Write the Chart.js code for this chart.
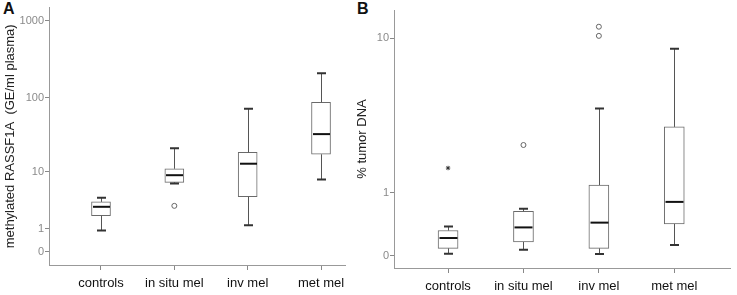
<!DOCTYPE html>
<html>
<head>
<meta charset="utf-8">
<script src="https://cdn.jsdelivr.net/npm/chart.js@4.4.1/dist/chart.umd.min.js"></script>
<style>
  body { margin: 0; background: #fff; width: 737px; height: 295px; overflow: hidden; position: relative; }
  canvas { position: absolute; top: 0; }
  .panel { position: absolute; top: 0; font: bold 16px "Liberation Sans", Arial, sans-serif; color: #111; }
</style>
</head>
<body>
<div class="panel" style="left:3px">A</div>
<div class="panel" style="left:357px">B</div>
<canvas id="chartA" width="355" height="295" style="left:0"></canvas>
<canvas id="chartB" width="382" height="295" style="left:355px"></canvas>
<script>
const categories = ["controls", "in situ mel", "inv mel", "met mel"];

// panel A: methylated RASSF1A (GE/ml plasma)
const aLow    = [0.90, 6.7, 1.22, 7.7];
const aQ1     = [1.95, 7.0, 4.2, 17.5];
const aMedian = [2.85, 8.9, 12.95, 32.8];
const aQ3     = [3.46, 11.0, 18.6, 86.5];
const aHigh   = [4.06, 21.1, 70.9, 207];
const aOutliers = [{ cat: 2, value: 2.96 }];
const aExtremes = [];
const aTicks = [0, 1, 10, 100, 1000];

// panel B: % tumor DNA
const bLow    = [0.022, 0.068, 0.019, 0.125];
const bQ1     = [0.084, 0.163, 0.084, 0.42];
const bMedian = [0.215, 0.366, 0.44, 0.81];
const bQ3     = [0.32, 0.63, 1.18, 3.14];
const bHigh   = [0.38, 0.68, 4.07, 8.8];
const bOutliers = [{ cat: 2, value: 2.39 }, { cat: 3, value: 10.3 }, { cat: 3, value: 11.5 }];
const bExtremes = [{ cat: 1, value: 1.63 }];
const bTicks = [0, 1, 10];

// axis is log10(x + 1), so 0 can be shown
const t = v => Math.log10(v + 1);
const FONT = "'Liberation Sans', Arial, sans-serif";

const whiskerPlugin = {
  id: "whiskers",
  afterDatasetsDraw(chart) {
    const ds = chart.data.datasets[0];
    const x = chart.scales.x, y = chart.scales.y;
    const ctx = chart.ctx;
    const half = ds.barThickness / 2;
    ctx.save();
    ds.data.forEach((d, i) => {
      const px = Math.round(x.getPixelForValue(d.x)) + 0.5;
      const low = y.getPixelForValue(t(ds.low[i]));
      const high = y.getPixelForValue(t(ds.high[i]));
      const q1 = y.getPixelForValue(d.y[0]);
      const q3 = y.getPixelForValue(d.y[1]);
      const med = y.getPixelForValue(t(ds.median[i]));
      ctx.strokeStyle = "#555";
      ctx.lineWidth = 1;
      ctx.beginPath();
      ctx.moveTo(px, q3); ctx.lineTo(px, high);
      ctx.moveTo(px, q1); ctx.lineTo(px, low);
      ctx.stroke();
      ctx.strokeStyle = "#333";
      ctx.lineWidth = 2;
      ctx.beginPath();
      ctx.moveTo(px - 4.5, high); ctx.lineTo(px + 4.5, high);
      ctx.moveTo(px - 4.5, low); ctx.lineTo(px + 4.5, low);
      ctx.stroke();
      ctx.strokeStyle = "#111";
      ctx.beginPath();
      ctx.moveTo(px - half + 1, med); ctx.lineTo(px + half - 1, med);
      ctx.stroke();
    });
    ctx.restore();
  }
};

function makeChart(id, cfg) {
  const boxes = categories.map((c, i) => ({ x: i + 1, y: [t(cfg.q1[i]), t(cfg.q3[i])] }));
  new Chart(document.getElementById(id), {
    type: "bar",
    data: {
      datasets: [
        {
          type: "bar",
          data: boxes,
          low: cfg.low, high: cfg.high, median: cfg.median,
          backgroundColor: "#fff",
          borderColor: "#6a6a6a",
          borderWidth: 1,
          borderSkipped: false,
          barThickness: cfg.boxWidth,
          order: 2
        },
        {
          type: "scatter",
          data: cfg.outliers.map(o => ({ x: o.cat, y: t(o.value) })),
          pointStyle: "circle",
          radius: 2.5,
          backgroundColor: "#fff",
          borderColor: "#666",
          borderWidth: 1,
          order: 1
        },
        {
          type: "scatter",
          data: cfg.extremes.map(o => ({ x: o.cat, y: t(o.value) })),
          pointStyle: "star",
          radius: 2.2,
          borderColor: "#333",
          borderWidth: 1,
          order: 1
        }
      ]
    },
    options: {
      responsive: false,
      animation: false,
      layout: { padding: { left: 0, top: cfg.top, right: cfg.right, bottom: 0 } },
      plugins: { legend: { display: false }, tooltip: { enabled: false } },
      scales: {
        x: {
          type: "linear",
          offset: false,
          min: cfg.xMin,
          max: cfg.xMax,
          afterBuildTicks: s => { s.ticks = categories.map((c, i) => ({ value: i + 1 })); },
          afterFit: s => { s.height = cfg.xHeight; },
          ticks: {
            callback: (v, i) => categories[i],
            color: "#111",
            font: { family: FONT, size: 13 },
            padding: cfg.labelPad,
            maxRotation: 0,
            autoSkip: false
          },
          grid: { offset: false, drawOnChartArea: false, tickLength: 5, color: "#888" },
          border: { color: "#999" }
        },
        y: {
          type: "linear",
          min: cfg.yMin,
          max: cfg.yMax,
          afterBuildTicks: s => { s.ticks = cfg.ticks.map(v => ({ value: t(v) })); },
          afterFit: s => { s.width = cfg.yWidth; },
          ticks: {
            callback: (v, i) => String(cfg.ticks[i]),
            color: "#8a8a8a",
            font: { family: FONT, size: 11 },
            padding: 1
          },
          grid: { drawOnChartArea: false, tickLength: 4, color: "#888" },
          border: { color: "#999" },
          title: {
            display: true,
            text: cfg.title,
            color: "#222",
            font: { family: FONT, size: 13 },
            padding: { top: cfg.titlePad, bottom: 0 }
          }
        }
      }
    },
    plugins: [whiskerPlugin]
  });
}

makeChart("chartA", {
  low: aLow, q1: aQ1, median: aMedian, q3: aQ3, high: aHigh,
  outliers: aOutliers, extremes: aExtremes, ticks: aTicks,
  title: "methylated RASSF1A  (GE/ml plasma)",
  boxWidth: 19, top: 4, right: 10, xHeight: 30, yWidth: 49, titlePad: 3, labelPad: 6,
  xMin: 0.291, xMax: 4.327, yMin: -0.170, yMax: 3.171
});

makeChart("chartB", {
  low: bLow, q1: bQ1, median: bMedian, q3: bQ3, high: bHigh,
  outliers: bOutliers, extremes: bExtremes, ticks: bTicks,
  title: "% tumor DNA",
  boxWidth: 20, top: 10, right: 7, xHeight: 27, yWidth: 39, titlePad: 0, labelPad: 6,
  xMin: 0.283, xMax: 4.739, yMin: -0.059, yMax: 1.177
});
</script>
</body>
</html>
